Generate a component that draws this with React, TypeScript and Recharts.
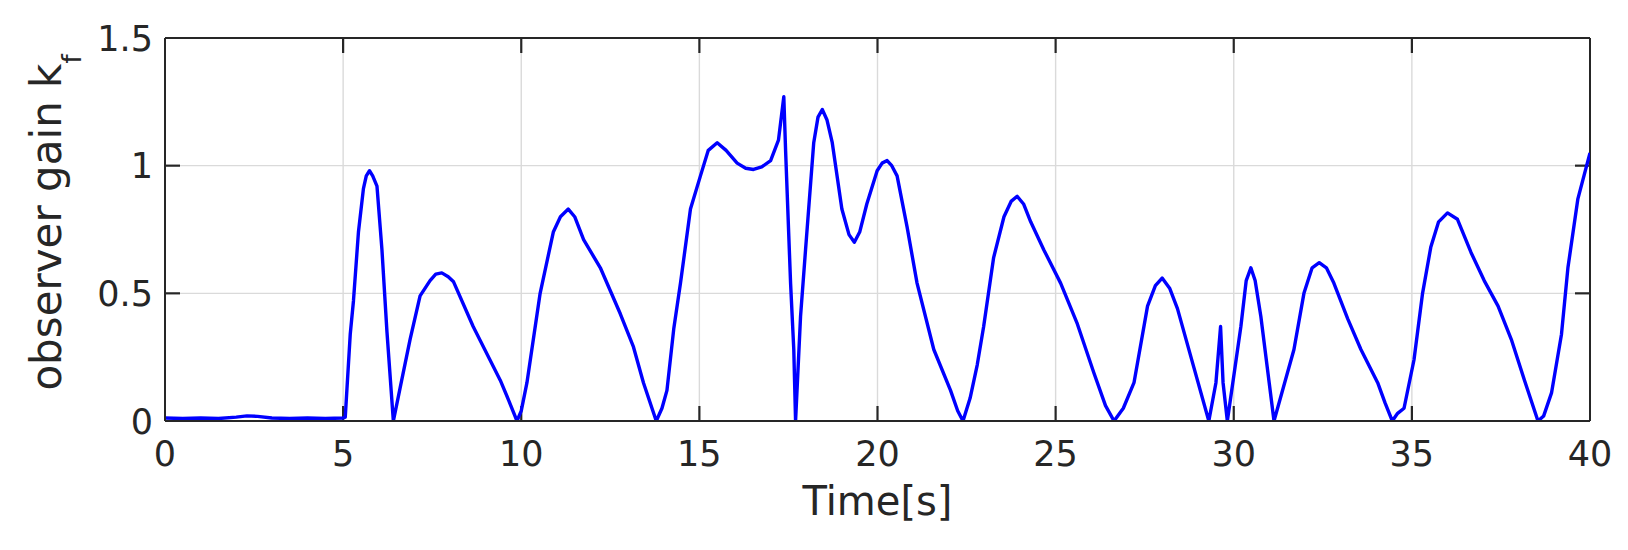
import React from "react";
import { LineChart, Line, XAxis, YAxis, Label, ReferenceLine, CartesianGrid } from "recharts";

const times: number[] = [
  0, 0.5, 1.0, 1.5, 2.0, 2.3, 2.6, 3.0, 3.5, 4.0, 4.5, 5.0, 5.06,
  5.2, 5.29, 5.43, 5.57, 5.65, 5.74, 5.83, 5.95, 6.09, 6.23, 6.41,
  6.6, 6.88, 7.16, 7.44, 7.6, 7.77, 7.95, 8.1, 8.65, 9.41, 9.65, 9.88,
  10.0, 10.16, 10.53, 10.9, 11.1, 11.32, 11.5, 11.75, 12.22, 12.78, 13.15, 13.43, 13.79,
  13.95, 14.09, 14.28, 14.47, 14.75, 15.03, 15.25, 15.5, 15.75, 16.06, 16.3, 16.52, 16.75, 17.0, 17.22, 17.37,
  17.42, 17.56, 17.65, 17.7, 17.84, 17.98, 18.21, 18.33, 18.45, 18.58, 18.73, 19.0, 19.2, 19.35,
  19.5, 19.7, 19.99, 20.13, 20.27, 20.4, 20.55, 20.83, 21.11, 21.58, 22.05, 22.25, 22.4,
  22.6, 22.8, 22.98, 23.26, 23.55, 23.75, 23.92, 24.1, 24.3, 24.67, 25.14, 25.61, 26.07, 26.4, 26.64,
  26.9, 27.2, 27.58, 27.8, 27.99, 28.2, 28.42, 28.88, 29.3, 29.5, 29.63, 29.7, 29.82,
  30.2, 30.35, 30.48, 30.6, 30.76, 31.13, 31.69, 31.97, 32.2, 32.4, 32.6, 32.81, 33.2, 33.57, 34.04, 34.25, 34.45,
  34.6, 34.78, 35.06, 35.3, 35.53, 35.75, 36.0, 36.28, 36.66, 37.03, 37.42, 37.79, 38.16, 38.54,
  38.7, 38.92, 39.2, 39.38, 39.66, 40.0,
];

const gains: number[] = [
  0.012, 0.01, 0.012, 0.01, 0.015, 0.02, 0.018, 0.012, 0.01, 0.012, 0.01, 0.012, 0.015,
  0.34, 0.47, 0.74, 0.91, 0.96, 0.98, 0.96, 0.92, 0.67, 0.35, 0.0,
  0.13, 0.32, 0.49, 0.55, 0.575, 0.58, 0.565, 0.545, 0.37, 0.16, 0.08, 0.0,
  0.04, 0.15, 0.5, 0.74, 0.8, 0.83, 0.8, 0.71, 0.6, 0.42, 0.29, 0.15, 0.0,
  0.05, 0.12, 0.36, 0.54, 0.83, 0.96, 1.06, 1.09, 1.06, 1.01, 0.99, 0.985, 0.995, 1.02, 1.1, 1.27,
  1.06, 0.54, 0.28, 0.0, 0.41, 0.67, 1.09, 1.19, 1.22, 1.18, 1.09, 0.83, 0.73, 0.7,
  0.74, 0.85, 0.98, 1.01, 1.02, 1.0, 0.96, 0.76, 0.54, 0.28, 0.12, 0.04, 0.0,
  0.09, 0.22, 0.37, 0.64, 0.8, 0.86, 0.88, 0.85, 0.78, 0.67, 0.54, 0.38, 0.19, 0.06, 0.0,
  0.05, 0.15, 0.45, 0.53, 0.56, 0.52, 0.44, 0.21, 0.0, 0.15, 0.37, 0.15, 0.0,
  0.37, 0.55, 0.6, 0.55, 0.41, 0.0, 0.28, 0.5, 0.6, 0.62, 0.6, 0.54, 0.4, 0.28, 0.15, 0.07, 0.0,
  0.03, 0.05, 0.24, 0.5, 0.68, 0.78, 0.815, 0.79, 0.66, 0.55, 0.45, 0.32, 0.16, 0.0,
  0.02, 0.11, 0.34, 0.6, 0.87, 1.05,
];

const xTicks: number[] = [0, 5, 10, 15, 20, 25, 30, 35, 40];
const yTicks: number[] = [0, 0.5, 1, 1.5];
const yTickLabels: string[] = ["0", "0.5", "1", "1.5"];

const data = times.map((t, i) => ({ t, v: gains[i] }));

const TXT = "#262626";
const GRID = "#dadada";
const FONT = "DejaVu Sans, sans-serif";

const W = 1628;
const H = 550;
const M_TOP = 38;
const M_RIGHT = 38;
const Y_AXIS_W = 165;
const X_AXIS_H = 129;
const PL = Y_AXIS_W;
const PR = W - M_RIGHT;
const PT = M_TOP;
const PB = H - X_AXIS_H;
const TICK = 15;

const X_MIN = xTicks[0];
const X_MAX = xTicks[xTicks.length - 1];
const Y_MIN = yTicks[0];
const Y_MAX = yTicks[yTicks.length - 1];

// vertical grid line + inward tick marks at both ends (top & bottom)
const VGrid = (p: any) => {
  const { x1, y1, y2 } = p;
  if (Math.abs(x1 - PL) < 1 || Math.abs(x1 - PR) < 1) return <g key={p.key} />;
  const top = Math.min(y1, y2);
  const bot = Math.max(y1, y2);
  return (
    <g key={p.key}>
      <line x1={x1} x2={x1} y1={top + TICK} y2={bot - TICK} stroke={GRID} strokeWidth={1.4} />
      <line x1={x1} x2={x1} y1={bot} y2={bot - TICK} stroke={TXT} strokeWidth={2.2} />
      <line x1={x1} x2={x1} y1={top} y2={top + TICK} stroke={TXT} strokeWidth={2.2} />
    </g>
  );
};

// horizontal grid line + inward tick marks at both ends (left & right)
const HGrid = (p: any) => {
  const { y1, x1, x2 } = p;
  if (Math.abs(y1 - PT) < 1 || Math.abs(y1 - PB) < 1) return <g key={p.key} />;
  const l = Math.min(x1, x2);
  const r = Math.max(x1, x2);
  return (
    <g key={p.key}>
      <line x1={l + TICK} x2={r - TICK} y1={y1} y2={y1} stroke={GRID} strokeWidth={1.4} />
      <line x1={l} x2={l + TICK} y1={y1} y2={y1} stroke={TXT} strokeWidth={2.2} />
      <line x1={r} x2={r - TICK} y1={y1} y2={y1} stroke={TXT} strokeWidth={2.2} />
    </g>
  );
};

const XTick = (props: any) => {
  const { x, payload } = props;
  return (
    <text x={x} y={PB + 45} textAnchor="middle" fill={TXT} fontFamily={FONT} fontSize={35}>
      {String(payload.value)}
    </text>
  );
};

const YTick = (props: any) => {
  const { y, payload } = props;
  const v = payload.value;
  const label = yTickLabels[yTicks.indexOf(v)] ?? String(v);
  return (
    <text x={PL - 12} y={y} dy="0.36em" textAnchor="end" fill={TXT} fontFamily={FONT} fontSize={35}>
      {label}
    </text>
  );
};

const YLabel = () => {
  const cx = 61;
  const cy = 222.5;
  return (
    <text
      x={cx}
      y={cy}
      transform={`rotate(-90, ${cx}, ${cy})`}
      textAnchor="middle"
      fill={TXT}
      fontFamily={FONT}
      fontSize={42}
    >
      observer gain k
      <tspan fontSize={26} dy={20}>f</tspan>
    </text>
  );
};

const XLabel = () => (
  <text x={(PL + PR) / 2} y={PB + 94} textAnchor="middle" fill={TXT} fontFamily={FONT} fontSize={40}>
    Time[s]
  </text>
);

export default function App() {
  return (
    <div style={{ position: "absolute", left: 0, top: 0, width: W, height: H, background: "#fff" }}>
      <LineChart
        width={W}
        height={H}
        data={data}
        margin={{ top: M_TOP, right: M_RIGHT, left: 0, bottom: 0 }}
        style={{ fontFamily: FONT }}
      >
        <CartesianGrid vertical={VGrid} horizontal={HGrid} stroke={GRID} />
        <ReferenceLine y={Y_MAX} stroke={TXT} strokeWidth={2} ifOverflow="visible" />
        <ReferenceLine x={X_MAX} stroke={TXT} strokeWidth={2} ifOverflow="visible" />
        <Line
          type="linear"
          dataKey="v"
          stroke="#0000ff"
          strokeWidth={3.4}
          strokeLinejoin="round"
          dot={false}
          isAnimationActive={false}
        />
        <XAxis
          dataKey="t"
          type="number"
          domain={[X_MIN, X_MAX]}
          ticks={xTicks}
          allowDataOverflow
          height={X_AXIS_H}
          tickSize={0}
          tickLine={false}
          axisLine={{ stroke: TXT, strokeWidth: 2 }}
          tick={<XTick />}
          interval={0}
        >
          <Label content={<XLabel />} />
        </XAxis>
        <YAxis
          type="number"
          domain={[Y_MIN, Y_MAX]}
          ticks={yTicks}
          width={Y_AXIS_W}
          tickSize={0}
          tickLine={false}
          allowDataOverflow
          axisLine={{ stroke: TXT, strokeWidth: 2 }}
          tick={<YTick />}
          interval={0}
        >
          <Label content={<YLabel />} />
        </YAxis>
      </LineChart>
    </div>
  );
}
